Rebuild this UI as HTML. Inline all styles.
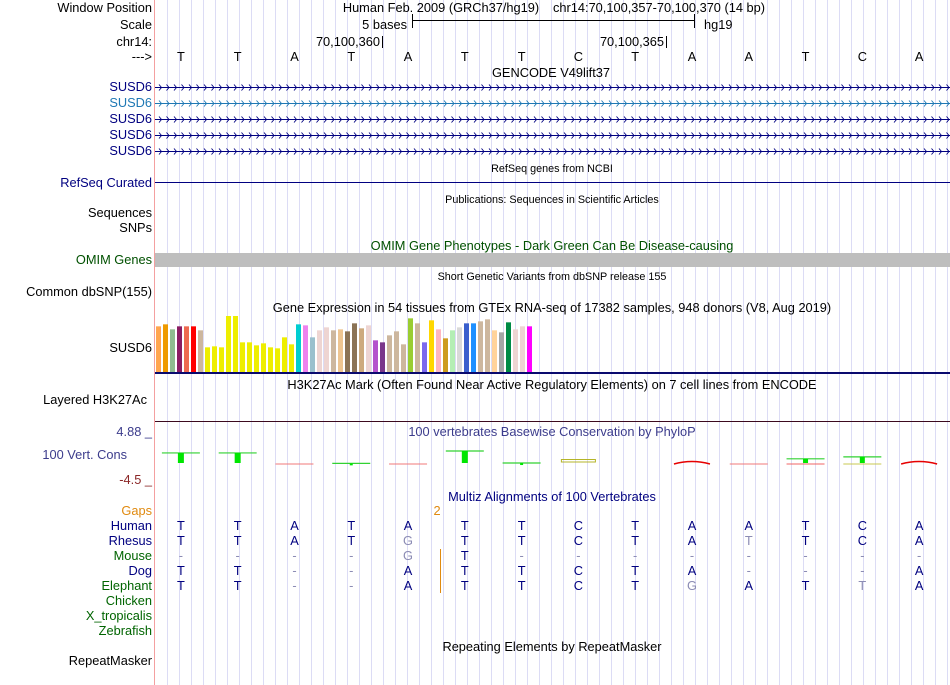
<!DOCTYPE html>
<html><head><meta charset="utf-8"><style>
html,body{margin:0;padding:0;background:#fff;}
svg{display:block;font-family:"Liberation Sans",sans-serif;}
</style></head><body>
<svg id="s" width="950" height="685" viewBox="0 0 950 685">
<g id="grid"></g>
<line x1="154.5" y1="0" x2="154.5" y2="685" stroke="#f4a0a0" stroke-width="1"/>
<g font-size="12.8" text-anchor="end">
<text x="152" y="12">Window Position</text>
<text x="152" y="29">Scale</text>
<text x="152" y="46">chr14:</text>
<text x="152" y="61">---&gt;</text>
<text x="152" y="91" fill="#000080">SUSD6</text>
<text x="152" y="107" fill="#1e78b4">SUSD6</text>
<text x="152" y="123" fill="#000080">SUSD6</text>
<text x="152" y="139" fill="#000080">SUSD6</text>
<text x="152" y="155" fill="#000080">SUSD6</text>
<text x="152" y="187" fill="#000080">RefSeq Curated</text>
<text x="152" y="217">Sequences</text>
<text x="152" y="232">SNPs</text>
<text x="152" y="264" fill="#005000">OMIM Genes</text>
<text x="152" y="296">Common dbSNP(155)</text>
<text x="152" y="352">SUSD6</text>
<text x="147" y="404">Layered H3K27Ac</text>
<text x="152" y="436" fill="#3c3c8c">4.88 _</text>
<text x="127" y="459" fill="#3c3c8c">100 Vert. Cons</text>
<text x="152" y="484" fill="#8c2828">-4.5 _</text>
<text x="152" y="515" fill="#e08a10">Gaps</text>
<text x="152" y="530" fill="#000080">Human</text>
<text x="152" y="545" fill="#000080">Rhesus</text>
<text x="152" y="560" fill="#006400">Mouse</text>
<text x="152" y="575" fill="#000080">Dog</text>
<text x="152" y="590" fill="#006400">Elephant</text>
<text x="152" y="605" fill="#006400">Chicken</text>
<text x="152" y="620" fill="#006400">X_tropicalis</text>
<text x="152" y="635" fill="#006400">Zebrafish</text>
<text x="152" y="665">RepeatMasker</text>
</g>
<g font-size="12.8" text-anchor="middle">
<text x="441" y="12">Human Feb. 2009 (GRCh37/hg19)</text>
<text x="553" y="12" text-anchor="start">chr14:70,100,357-70,100,370 (14 bp)</text>
<text x="407" y="29" text-anchor="end">5 bases</text>
<text x="704" y="29" text-anchor="start">hg19</text>
<text x="380" y="46" text-anchor="end">70,100,360</text>
<text x="664" y="46" text-anchor="end">70,100,365</text>
<text x="551" y="77">GENCODE V49lift37</text>
<text x="552" y="172" font-size="10.8">RefSeq genes from NCBI</text>
<text x="552" y="203" font-size="10.8">Publications: Sequences in Scientific Articles</text>
<text x="552" y="250" fill="#005000">OMIM Gene Phenotypes - Dark Green Can Be Disease-causing</text>
<text x="552" y="280" font-size="10.8">Short Genetic Variants from dbSNP release 155</text>
<text x="552" y="312">Gene Expression in 54 tissues from GTEx RNA-seq of 17382 samples, 948 donors (V8, Aug 2019)</text>
<text x="552" y="389">H3K27Ac Mark (Often Found Near Active Regulatory Elements) on 7 cell lines from ENCODE</text>
<text x="552" y="436" fill="#3c3c8c">100 vertebrates Basewise Conservation by PhyloP</text>
<text x="552" y="501" fill="#000080">Multiz Alignments of 100 Vertebrates</text>
<text x="552" y="651">Repeating Elements by RepeatMasker</text>
<text x="437" y="515" fill="#e08a10">2</text>
</g>
<g stroke="#000">
<line x1="412" y1="20.5" x2="694" y2="20.5"/><line x1="412.5" y1="14" x2="412.5" y2="28"/><line x1="694.5" y1="14" x2="694.5" y2="28"/>
<line x1="382.5" y1="36" x2="382.5" y2="48"/><line x1="666.5" y1="36" x2="666.5" y2="48"/>
</g>
<rect x="155" y="253" width="795" height="14" fill="#bebebe"/>
<line x1="155" y1="182.5" x2="950" y2="182.5" stroke="#000080"/>
<line x1="155" y1="373" x2="950" y2="373" stroke="#0a0a6e" stroke-width="2"/>
<line x1="155" y1="421.5" x2="950" y2="421.5" stroke="#3c0a1e"/>
<line x1="440.5" y1="549" x2="440.5" y2="593" stroke="#e08a10"/>
<g id="genes"></g>
<g id="bases" font-size="12.8" text-anchor="middle"></g>
<g id="gtex"></g>
<g id="cons"></g>
<g id="multiz" font-size="12.8" text-anchor="middle"></g>
</svg>
<script>
const NS="http://www.w3.org/2000/svg";
const gtexValues=[137,143,128,137,137,137,125,74,77,74,168,168,89,89,80,86,74,71,104,83,143,140,104,125,134,125,128,122,146,131,140,95,89,110,122,83,161,146,89,155,128,101,125,134,146,146,152,158,125,119,149,128,137,137];
const gtexColors=["#FFA54F","#EE9A00","#8FBC8F","#8B1C62","#EE6A50","#FF0000","#CDB79E","#EEEE00","#EEEE00","#EEEE00","#EEEE00","#EEEE00","#EEEE00","#EEEE00","#EEEE00","#EEEE00","#EEEE00","#EEEE00","#EEEE00","#EEEE00","#00CED1","#EE82EE","#9AC0CD","#EED5D2","#EED5D2","#CDB79E","#EEC591","#8B7355","#8B7355","#CDAA7D","#EED5D2","#B452CD","#7A378B","#CDB79E","#CDB79E","#CDB79E","#9ACD32","#CDB79E","#7B68EE","#FFD700","#FFB6C1","#CD9B1D","#B4EEB4","#D9D9D9","#3A5FCD","#1E90FF","#CDB79E","#CDB79E","#FFD39B","#A6A6A6","#008B45","#EED5D2","#EED5D2","#FF00FF"];
const refBases=["T","T","A","T","A","T","T","C","T","A","A","T","C","A"];
const consValues=[1.7,1.7,-0.3,0.1,-0.3,2.0,0.15,0.3,0,-0.8,-0.3,0.8,1.1,-0.8];
const rhesus=["T","T","A","T","g","T","T","C","T","A","t","T","C","A"];
const mouse=["-","-","-","-","g","T","-","-","-","-","-","-","-","-"];
const dog=["T","T","-","-","A","T","T","C","T","A","-","-","-","A"];
const elephant=["T","T","-","-","A","T","T","C","T","g","A","T","t","A"];
const baseW=795/14;
const bx=i=>152.5+baseW*(i+0.5);
function mk(tag,attrs,parent){const e=document.createElementNS(NS,tag);for(const k in attrs)e.setAttribute(k,attrs[k]);parent.appendChild(e);return e;}
const grid=document.getElementById('grid');
for(let x=167.5;x<950;x+=12){const l=mk('line',{x1:x,y1:0,x2:x,y2:685,stroke:'#dcdcf5'},grid);

}
const genes=document.getElementById('genes');
[87,103,119,135,151].forEach((y,r)=>{const c=r==1?'#1e78b4':'#000080';
const g=mk('g',{},genes);


mk('line',{x1:155,y1:y+0.5,x2:950,y2:y+0.5,stroke:c},g);
let d='';for(let x=159;x<948;x+=7.5){d+=`M${x} ${y-2.5}L${x+2.5} ${y+0.5}L${x} ${y+3.5}`;}
mk('path',{d:d,stroke:c,fill:'none','stroke-width':0.9},g);});
const bases=document.getElementById('bases');
refBases.forEach((b,i)=>{const t=mk('text',{x:bx(i),y:61},bases);t.textContent=b;

});
const gtex=document.getElementById('gtex');
const gBase=372,gScale=56/168;
gtexValues.forEach((v,i)=>{const h=v*gScale;const r=mk('rect',{x:156+i*7,y:gBase-h,width:5,height:h,fill:gtexColors[i]},gtex);

});
const cons=document.getElementById('cons');
const zeroY=464,cScale=6.5;
consValues.forEach((v,i)=>{const cx=bx(i);if(v===0)return;
const g=mk('g',{},cons);


if(i===7){mk('rect',{x:cx-17,y:459.5,width:34,height:2.5,fill:'none',stroke:'#b4b428'},g);return;}
if(v>0){const y=zeroY-v*cScale;mk('line',{x1:cx-19,y1:y,x2:cx+19,y2:y,stroke:'#32d232','stroke-width':1.2},g);
const w=v>1.2?6:(v>0.5?5:3);mk('rect',{x:cx-w/2,y:y,width:w,height:Math.max(2,zeroY-y-1),fill:'#00e600'},g);
if(v<1.2&&v>0.5)mk('line',{x1:cx-19,y1:zeroY,x2:cx+19,y2:zeroY,stroke:i==11?'#f06464':'#c8c850'},g);}
else{ if(v<-0.5){mk('path',{d:`M${cx-18} ${zeroY}Q${cx} ${zeroY-5} ${cx+18} ${zeroY}`,stroke:'#e60000',fill:'none','stroke-width':1.5},g);}
else mk('line',{x1:cx-19,y1:zeroY,x2:cx+19,y2:zeroY,stroke:'#f07878'},g);}});
const mz=document.getElementById('multiz');
[[refBases,530],[rhesus,545],[mouse,560],[dog,575],[elephant,590]].forEach(([arr,y])=>{arr.forEach((b,i)=>{
const light=(b===b.toLowerCase()&&b!=='-');const t=mk('text',{x:bx(i),y:y,fill:(light||b==='-')?'#8c8cb4':'#000080'},mz);
t.textContent=b.toUpperCase();

});});
</script>
</body></html>
